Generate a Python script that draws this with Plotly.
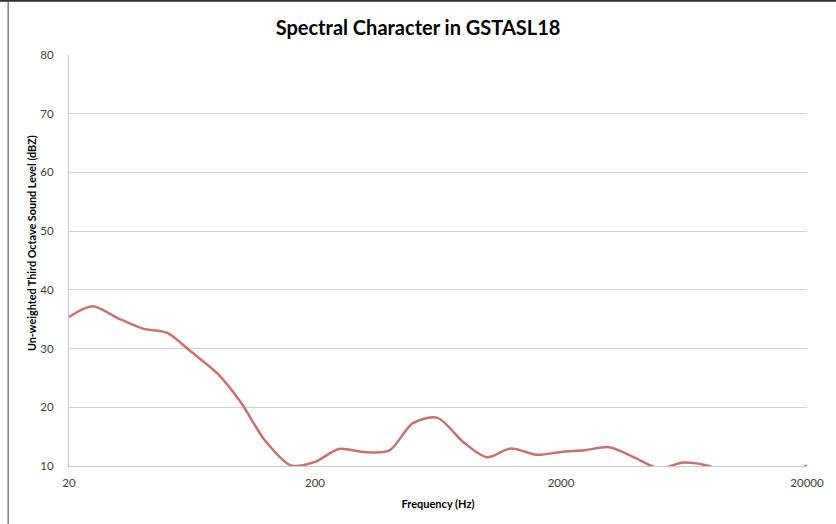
import plotly.graph_objects as go

freqs = [20, 25, 31.5, 40, 50, 63, 80, 100, 125, 160, 200, 250, 315, 400, 500, 630,
         800, 1000, 1250, 1600, 2000, 2500, 3150, 4000, 5000, 6300, 8000, 10000,
         12500, 16000, 20000]
levels = [35.4, 37.2, 35.2, 33.4, 32.7, 29.4, 25.8, 20.8, 14.4, 10.1, 10.7, 12.9,
          12.4, 12.6, 17.3, 18.2, 14.1, 11.5, 13.0, 11.9, 12.4, 12.7, 13.2, 11.4,
          9.6, 10.6, 10.0, 8.0, 7.2, 8.0, 10.1]
x_ticks = [20, 200, 2000, 20000]
y_ticks = [10, 20, 30, 40, 50, 60, 70, 80]

fig = go.Figure()
fig.add_trace(go.Scatter(
    x=freqs, y=levels, mode="lines",
    line=dict(color="#C9716E", width=2.5, shape="spline", smoothing=0.8),
    showlegend=False,
))

font_family = "Lato, 'Open Sans', sans-serif"
fig.update_layout(
    width=836, height=524,
    margin=dict(l=69, r=27, t=55, b=58),
    paper_bgcolor="white", plot_bgcolor="white",
    title=dict(text="<b>Spectral Character in GSTASL18</b>", x=0.5, xanchor="center",
               y=0.947, yanchor="middle",
               font=dict(family=font_family, size=20, color="black")),
    xaxis=dict(type="log", range=[1.30103, 4.30103], tickvals=x_ticks,
               ticktext=[str(t) for t in x_ticks], showgrid=False,
               showline=True, linecolor="#C8C8C8", linewidth=1, ticks="",
               ticklabelstandoff=6,
               tickfont=dict(family=font_family, size=11.5, color="#404040"),
               title=dict(text="<b>Frequency (Hz)</b>", standoff=12,
                          font=dict(family=font_family, size=11, color="black")),
               zeroline=False),
    yaxis=dict(range=[10, 80], tickvals=y_ticks, showgrid=True, gridcolor="#D0D0D0",
               gridwidth=1, showline=True, linecolor="#C8C8C8", linewidth=1,
               ticks="", ticklabelstandoff=12,
               tickfont=dict(family=font_family, size=11.5, color="#404040"),
               zeroline=False),
)
fig.add_annotation(text="<b>Un-weighted Third Octave Sound Level (dBZ)</b>",
                   xref="paper", yref="paper", x=-0.05, y=0.5426,
                   xanchor="center", yanchor="middle", textangle=-90,
                   showarrow=False,
                   font=dict(family=font_family, size=10.8, color="black"))
fig.add_shape(type="line", xref="paper", yref="paper", x0=-0.0824, x1=-0.0824,
              y0=-0.15, y1=1.14, line=dict(color="#808080", width=1.5))
fig.add_shape(type="line", xref="paper", yref="paper", x0=-0.1, x1=1.1,
              y0=1.1325, y1=1.1325, line=dict(color="#303030", width=2.5))

fig.write_html("out.html", config={"displayModeBar": False},
               post_script="document.body.style.margin='0';document.body.style.padding='0';")
